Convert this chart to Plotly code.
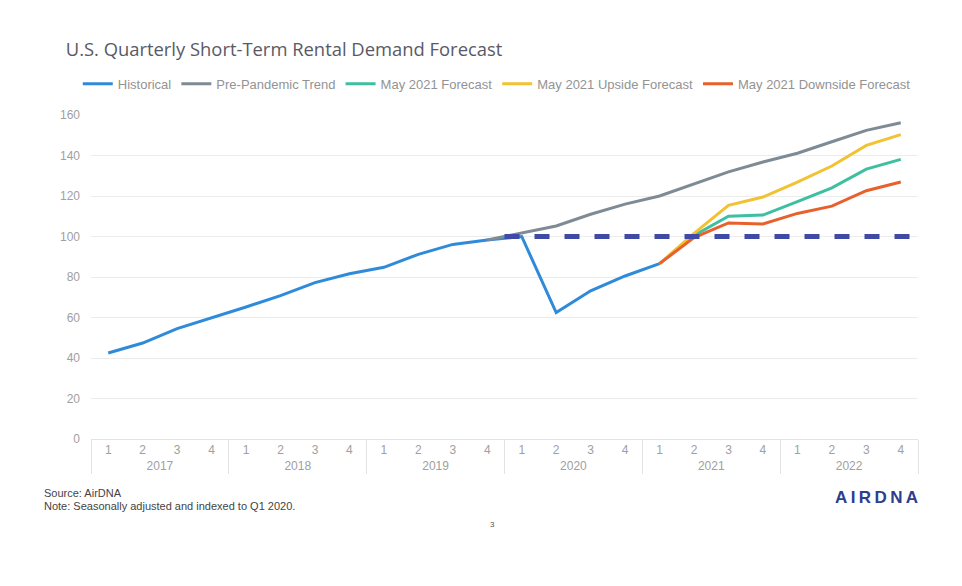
import plotly.graph_objects as go

# Data (index, Q1 2020 = 100)
years = ["2017", "2018", "2019", "2020", "2021", "2022"]
quarters = ["1", "2", "3", "4"]

historical = [42.5, 47.4, 54.5, 59.7, 65.2, 70.8, 77.2, 81.6, 84.8, 91.2, 96.1, 98.3,
              100, 62.4, 73.2, 80.5, 86.6]
pre_pandemic = [98.3, 101.9, 105.2, 111.0, 116.0, 120.0, 125.8, 131.9, 136.8, 141.1,
                146.8, 152.4, 156.2]          # from 2019 Q4
may_forecast = [86.6, 100.5, 110.0, 110.6, 117.2, 124.0, 133.3, 138.1]   # from 2021 Q1
may_upside = [86.6, 101.5, 115.4, 119.5, 126.9, 134.8, 145.0, 150.3]
may_downside = [86.6, 99.5, 106.7, 106.2, 111.4, 115.0, 122.6, 126.9]
index_base = 100

x_years = [y for y in years for q in quarters]
x_quarters = [q for y in years for q in quarters]
n = len(x_years)


def pad(vals, start):
    """ Place a series on the full quarter grid, starting at index start """
    out = [None] * n
    out[start:start + len(vals)] = vals
    return out


series = [
    ("Historical", pad(historical, 0), "#2F8BDA"),
    ("Pre-Pandemic Trend", pad(pre_pandemic, 11), "#7E8B95"),
    ("May 2021 Forecast", pad(may_forecast, 16), "#3DBFA0"),
    ("May 2021 Upside Forecast", pad(may_upside, 16), "#F1C232"),
    ("May 2021 Downside Forecast", pad(may_downside, 16), "#E8612C"),
]

fig = go.Figure()
for name, vals, color in series:
    fig.add_trace(go.Scatter(x=[x_years, x_quarters], y=vals, name=name, mode="lines",
                             line=dict(color=color, width=3)))

# Dashed reference line at the index base
fig.add_shape(type="line", xref="x", yref="y", x0=11.5, x1=23.3, y0=index_base, y1=index_base,
              line=dict(color="#3E4AA6", width=5, dash="dash"))

# page body adds an 8px offset, so margins are trimmed by 8 on left/top
fig.update_layout(
    width=962, height=586,
    margin=dict(l=83, r=52, t=107, b=155, autoexpand=False),
    paper_bgcolor="white", plot_bgcolor="white",
    font=dict(family="Liberation Sans, Arial", size=12, color="#9a9a9a"),
    title=dict(text="U.S. Quarterly Short-Term Rental Demand Forecast",
               font=dict(family="Open Sans", size=18.4, color="#595966"),
               xref="container", x=0.06, xanchor="left",
               yref="container", y=0.929, yanchor="middle"),
    legend=dict(orientation="h", x=-0.016, xanchor="left", y=1.096, yanchor="middle",
                font=dict(size=13, color="#939393"), itemwidth=30, tracegroupgap=0),
    showlegend=True,
)
fig.update_yaxes(range=[0, 160], dtick=20, showgrid=True, gridcolor="#ececec",
                 zeroline=False, showline=False, ticks="", ticklabelstandoff=10,
                 tickfont=dict(size=12, color="#a0a0a0"))
fig.update_xaxes(type="multicategory", range=[-0.5, 23.5], showgrid=False, showline=True,
                 linecolor="#e3e3e3", showdividers=True, dividercolor="#e3e3e3", dividerwidth=1,
                 tickfont=dict(size=12, color="#a0a0a0"))

fig.add_annotation(text="Source: AirDNA", xref="paper", yref="paper", x=-0.059, y=-0.166,
                   xanchor="left", yanchor="middle", showarrow=False,
                   font=dict(family="Liberation Sans", size=11, color="#444444"))
fig.add_annotation(text="Note: Seasonally adjusted and indexed to Q1 2020.", xref="paper", yref="paper",
                   x=-0.059, y=-0.207, xanchor="left", yanchor="middle", showarrow=False,
                   font=dict(family="Liberation Sans", size=11, color="#444444"))
fig.add_annotation(text="3", xref="paper", yref="paper", x=0.486, y=-0.265,
                   xanchor="center", yanchor="middle", showarrow=False,
                   font=dict(size=8, color="#555555"))
fig.add_annotation(text="<b>A\u2009I\u2009R\u2009D\u2009N\u2009A</b>", xref="paper", yref="paper",
                   x=1.002, y=-0.18, xanchor="right", yanchor="middle", showarrow=False,
                   font=dict(family="Liberation Sans", size=17, color="#2D3E8F"))

fig.write_html("out.html")
